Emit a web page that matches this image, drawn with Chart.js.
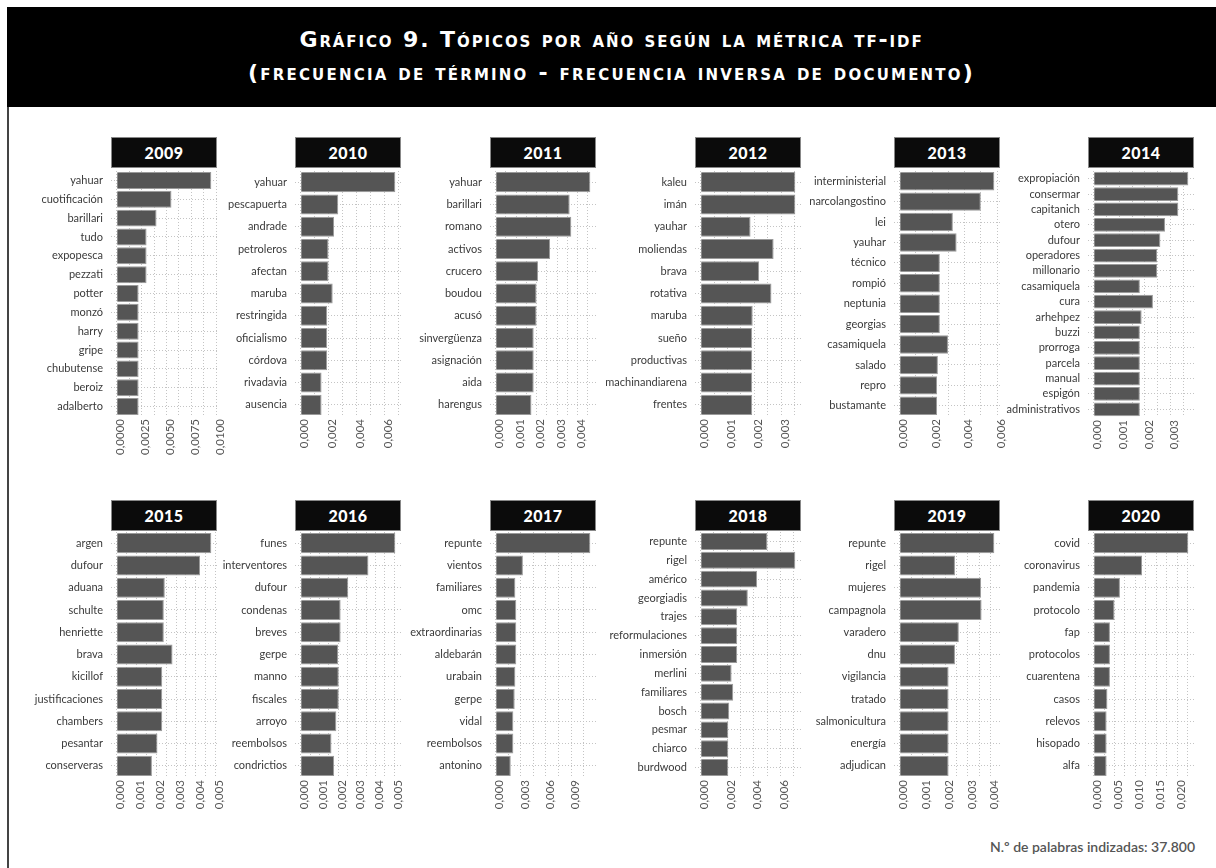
<!DOCTYPE html>
<html lang="es">
<head>
<meta charset="UTF-8">
<title>Gráfico 9</title>
<script src="https://cdn.jsdelivr.net/npm/chart.js"></script>
<style>
  body { margin: 0; background: #fff; }
  #page { position: relative; width: 1216px; height: 868px; overflow: hidden; }
  #frame { position: absolute; left: 7px; top: 7px; width: 2px; height: 870px; background: #444; }
  #head { position: absolute; left: 7px; top: 7px; width: 1209px; height: 100px; background: #000; }
  .tl { position: absolute; left: 0; width: 1209px; text-align: center; color: #fff;
        font-family: 'DejaVu Sans', sans-serif; font-weight: bold; font-size: 22px;
        line-height: 26px; font-variant: small-caps; letter-spacing: 2.2px; white-space: nowrap; }
  .strip { position: absolute; width: 104px; height: 29px; background: #0b0b0b; border: 1px solid #888;
           color: #fff; font-family: Lato, sans-serif; font-weight: 900; font-size: 16px;
           line-height: 30px; text-align: center; letter-spacing: 0.5px; }
  .panel { position: absolute; }
  #note { position: absolute; right: 21px; top: 838px; font-family: Lato, sans-serif; font-size: 14px;
          color: #555; font-weight: 600; }
</style>
</head>
<body>
<div id="page">
  <div id="frame"></div>
  <div id="head">
    <div class="tl" style="top:20px;letter-spacing:1.9px">Gráfico 9. Tópicos por año según la métrica tf-idf</div>
    <div class="tl" style="top:53px">(frecuencia de término - frecuencia inversa de documento)</div>
  </div>
  <div id="note">N.º de palabras indizadas: 37.800</div>
</div>
<script>
// datos por año (tf-idf)
const years = ['2009','2010','2011','2012','2013','2014','2015','2016','2017','2018','2019','2020']

const terms2009 = ['yahuar','cuotificación','barillari','tudo','expopesca','pezzati','potter','monzó','harry','gripe','chubutense','beroiz','adalberto']
const tfidf2009 = [0.0095,0.0055,0.0040,0.0030,0.0030,0.0030,0.0022,0.0022,0.0022,0.0022,0.0022,0.0022,0.0022]
const ticks2009 = [0,0.0025,0.005,0.0075,0.01]

const terms2010 = ['yahuar','pescapuerta','andrade','petroleros','afectan','maruba','restringida','oficialismo','córdova','rivadavia','ausencia']
const tfidf2010 = [0.0068,0.0027,0.0024,0.0020,0.0020,0.0023,0.0019,0.0019,0.0019,0.0015,0.0015]
const ticks2010 = [0,0.002,0.004,0.006]

const terms2011 = ['yahuar','barillari','romano','activos','crucero','boudou','acusó','sinvergüenza','asignación','aida','harengus']
const tfidf2011 = [0.00463,0.00362,0.00370,0.00266,0.00207,0.00200,0.00200,0.00186,0.00186,0.00186,0.00175]
const ticks2011 = [0,0.001,0.002,0.003,0.004]

const terms2012 = ['kaleu','imán','yauhar','moliendas','brava','rotativa','maruba','sueño','productivas','machinandiarena','frentes']
const tfidf2012 = [0.00353,0.00353,0.00186,0.00272,0.00218,0.00264,0.00194,0.00192,0.00192,0.00192,0.00192]
const ticks2012 = [0,0.001,0.002,0.003]

const terms2013 = ['interministerial','narcolangostino','lei','yauhar','técnico','rompió','neptunia','georgias','casamiquela','salado','repro','bustamante']
const tfidf2013 = [0.00582,0.00499,0.00327,0.00350,0.00247,0.00247,0.00247,0.00247,0.00297,0.00235,0.00230,0.00230]
const ticks2013 = [0,0.002,0.004,0.006]

const terms2014 = ['expropiación','consermar','capitanich','otero','dufour','operadores','millonario','casamiquela','cura','arhehpez','buzzi','prorroga','parcela','manual','espigón','administrativos']
const tfidf2014 = [0.00369,0.00330,0.00330,0.00278,0.00260,0.00247,0.00247,0.00180,0.00231,0.00187,0.00180,0.00180,0.00180,0.00180,0.00180,0.00180]
const ticks2014 = [0,0.001,0.002,0.003]

const terms2015 = ['argen','dufour','aduana','schulte','henriette','brava','kicillof','justificaciones','chambers','pesantar','conserveras']
const tfidf2015 = [0.00478,0.00421,0.00243,0.00238,0.00238,0.00282,0.00230,0.00230,0.00230,0.00206,0.00178]
const ticks2015 = [0,0.001,0.002,0.003,0.004,0.005]

const terms2016 = ['funes','interventores','dufour','condenas','breves','gerpe','manno','fiscales','arroyo','reembolsos','condrictios']
const tfidf2016 = [0.00507,0.00363,0.00255,0.00214,0.00214,0.00200,0.00204,0.00204,0.00191,0.00165,0.00179]
const ticks2016 = [0,0.001,0.002,0.003,0.004,0.005]

const terms2017 = ['repunte','vientos','familiares','omc','extraordinarias','aldebarán','urabain','gerpe','vidal','reembolsos','antonino']
const tfidf2017 = [0.0113,0.00325,0.00235,0.00246,0.00246,0.00246,0.00235,0.00227,0.00211,0.00211,0.00180]
const ticks2017 = [0,0.003,0.006,0.009]

const terms2018 = ['repunte','rigel','américo','georgiadis','trajes','reformulaciones','inmersión','merlini','familiares','bosch','pesmar','chiarco','burdwood']
const tfidf2018 = [0.00503,0.00713,0.00425,0.00355,0.00275,0.00275,0.00275,0.00233,0.00245,0.00215,0.00208,0.00208,0.00208]
const ticks2018 = [0,0.002,0.004,0.006]

const terms2019 = ['repunte','rigel','mujeres','campagnola','varadero','dnu','vigilancia','tratado','salmonicultura','energía','adjudican']
const tfidf2019 = [0.00416,0.00243,0.00358,0.00360,0.00260,0.00243,0.00215,0.00215,0.00215,0.00215,0.00215]
const ticks2019 = [0,0.001,0.002,0.003,0.004]

const terms2020 = ['covid','coronavirus','pandemia','protocolo','fap','protocolos','cuarentena','casos','relevos','hisopado','alfa']
const tfidf2020 = [0.0227,0.0116,0.0063,0.0050,0.0039,0.0039,0.0039,0.0033,0.0031,0.0031,0.0031]
const ticks2020 = [0,0.005,0.01,0.015,0.02]

const allTerms = [terms2009,terms2010,terms2011,terms2012,terms2013,terms2014,terms2015,terms2016,terms2017,terms2018,terms2019,terms2020]
const allValues = [tfidf2009,tfidf2010,tfidf2011,tfidf2012,tfidf2013,tfidf2014,tfidf2015,tfidf2016,tfidf2017,tfidf2018,tfidf2019,tfidf2020]
const allTicks = [ticks2009,ticks2010,ticks2011,ticks2012,ticks2013,ticks2014,ticks2015,ticks2016,ticks2017,ticks2018,ticks2019,ticks2020]

// layout
const colLeft = [111, 295, 490, 695, 894, 1088]
const stripTop = [137, 500]
const panelTop = [169, 530]
const PANEL_W = 106
const PANEL_H = 249
const LABEL_W = 110
const RIGHT_PAD = 14
const AXIS_H = 46
const EXP = 0.06
const page = document.getElementById('page')

years.forEach((year, i) => {
  const col = i % 6
  const row = Math.floor(i / 6)
  const left = colLeft[col]
  const terms = allTerms[i]
  const vals = allValues[i]
  const major = allTicks[i]
  const n = terms.length
  const u = PANEL_H / (n + 0.2)
  const top = panelTop[row] + 0.1 * u
  const h = n * u
  const M = Math.max(...vals)
  const xmax = (1 + EXP) * M
  const step = major[1] - major[0]
  let grid = []
  major.forEach(t => { grid.push(t); grid.push(t + step / 2) })
  grid = grid.filter(t => t <= xmax)
  const dec = year == '2009' ? 4 : 3

  const strip = document.createElement('div')
  strip.className = 'strip'
  strip.style.left = left + 'px'
  strip.style.top = stripTop[row] + 'px'
  strip.textContent = year
  page.appendChild(strip)

  const cv = document.createElement('canvas')
  cv.className = 'panel'
  cv.width = LABEL_W + PANEL_W + RIGHT_PAD
  cv.height = Math.round(h + AXIS_H)
  cv.style.left = (left - LABEL_W) + 'px'
  cv.style.top = top + 'px'
  page.appendChild(cv)

  new Chart(cv, {
    type: 'bar',
    data: {
      labels: terms,
      datasets: [{
        data: vals,
        backgroundColor: '#555555',
        borderColor: '#9a9a9a',
        borderWidth: 1,
        barPercentage: 0.9,
        categoryPercentage: 1
      }]
    },
    options: {
      indexAxis: 'y',
      responsive: false,
      animation: false,
      layout: { padding: { left: 0, top: 0, bottom: 0, right: RIGHT_PAD } },
      plugins: { legend: { display: false }, tooltip: { enabled: false } },
      scales: {
        x: {
          type: 'linear',
          min: -EXP * M,
          max: xmax,
          afterBuildTicks: s => { s.ticks = grid.map(v => ({ value: v })) },
          afterFit: s => { s.height = AXIS_H; s.paddingLeft = 0; s.paddingRight = 0 },
          grid: { color: '#c4c4c4', lineWidth: 1, drawTicks: false },
          border: { display: false, dash: [1, 2] },
          ticks: {
            autoSkip: false, minRotation: 90, maxRotation: 90, padding: 3, labelOffset: 4,
            color: '#555', font: { family: 'Lato', size: 11.5 },
            callback: v => major.some(t => Math.abs(t - v) < 1e-9) ? v.toFixed(dec).replace('.', ',') : ''
          }
        },
        y: {
          afterFit: s => { s.width = LABEL_W; s.paddingTop = 0; s.paddingBottom = 0 },
          grid: { offset: false, color: '#c4c4c4', lineWidth: 1, drawTicks: false },
          border: { display: false, dash: [1, 2] },
          ticks: { autoSkip: false, padding: 8, color: '#3a3a3a', font: { family: 'Lato', size: 11 } }
        }
      }
    }
  })
})
</script>
</body>
</html>
